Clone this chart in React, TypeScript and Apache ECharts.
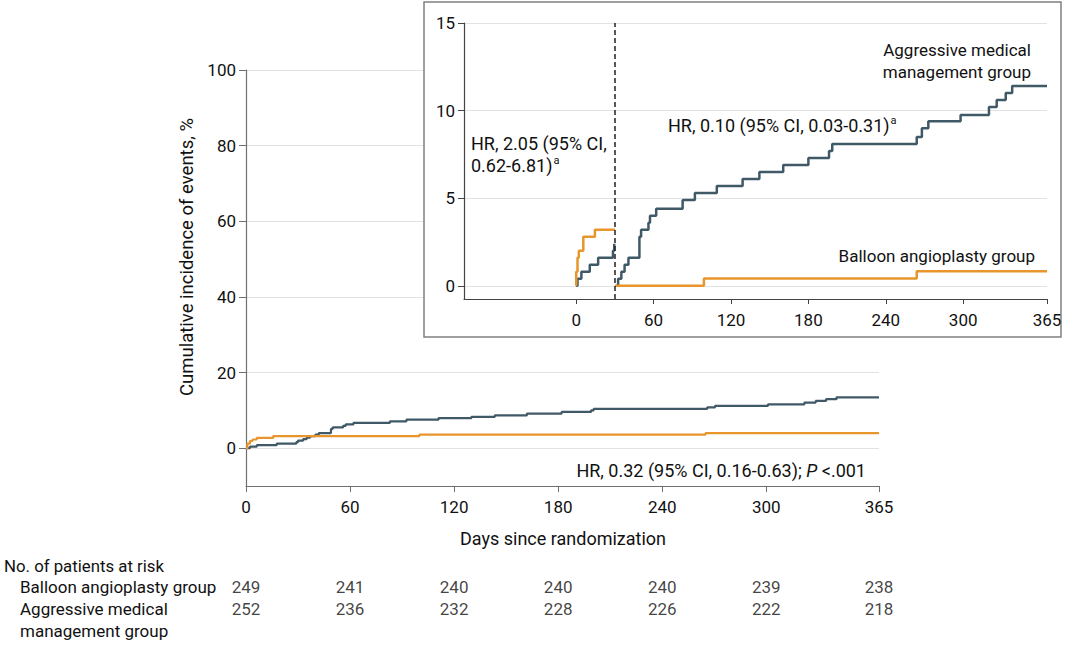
import React, { useEffect, useRef } from 'react';
import * as echarts from 'echarts';

// ---- tick labels ----
const mainXTicks = [0, 60, 120, 180, 240, 300, 365];
const mainYTicks = [0, 20, 40, 60, 80, 100];
const insetXTicks = [0, 60, 120, 180, 240, 300, 365];
const insetYTicks = [0, 5, 10, 15];

// ---- main plot (cumulative incidence, %) ----
const balloonMainDays = [0, 0.8, 2.3, 3.8, 6.2, 15.7, 100, 265, 365];
const balloonMainPct = [0, 1.2, 1.9, 2.3, 2.7, 3.2, 3.6, 4.0, 4.0];

const aggressiveMainDays = [0, 2.3, 6.2, 17.7, 29, 30, 33, 35, 37, 40, 42, 49, 50, 56, 57.5, 62, 83, 92.5, 111, 130, 143.5, 162, 182, 199, 200.5, 266, 270.5, 301, 322, 328.5, 334.5, 340.5, 365];
const aggressiveMainPct = [0, 0.4, 0.8, 1.2, 1.6, 2.0, 2.4, 2.8, 3.2, 3.6, 4.0, 5.1, 5.5, 5.9, 6.3, 6.7, 7.1, 7.55, 7.95, 8.3, 8.7, 9.15, 9.6, 10.0, 10.4, 10.8, 11.2, 11.6, 12.05, 12.5, 12.95, 13.45, 13.45];

// ---- inset (landmark analysis at day 30) ----
const balloonEarlyDays = [0, 0, 1, 2, 5.5, 14.5, 30];
const balloonEarlyPct = [0, 0.8, 1.6, 2.0, 2.8, 3.2, 3.2];
const balloonLateDays = [30, 99, 264, 365];
const balloonLatePct = [0, 0.42, 0.84, 0.84];

const aggressiveEarlyDays = [0, 1, 4, 10.5, 17, 28.5, 29.5, 30];
const aggressiveEarlyPct = [0, 0.4, 0.8, 1.2, 1.6, 2.0, 2.4, 2.4];
const aggressiveLateDays = [31, 32.5, 35, 37.5, 40.5, 49, 50.3, 56, 57.2, 62, 82.5, 92, 109, 129, 142, 160.5, 180, 196, 198.5, 264, 268, 273, 298, 320, 326, 333, 338, 365];
const aggressiveLatePct = [0, 0.4, 0.8, 1.2, 1.6, 2.8, 3.2, 3.6, 4.0, 4.4, 4.9, 5.3, 5.7, 6.1, 6.5, 6.9, 7.3, 7.7, 8.1, 8.5, 9.0, 9.4, 9.75, 10.2, 10.6, 11.0, 11.4, 11.4];

const landmarkDay = 30;

// ---- numbers at risk ----
const atRiskDays = [0, 60, 120, 180, 240, 300, 365];
const atRiskBalloon = [249, 241, 240, 240, 240, 239, 238];
const atRiskAggressive = [252, 236, 232, 228, 226, 222, 218];

const ORANGE = '#e8952c';
const SLATE = '#405967';
const FONT = 'Roboto';
const TXT = '#111111';

const zip = (a: number[], b: number[]) => a.map((v, i) => [v, b[i]]);

export default function App() {
  const ref = useRef<HTMLDivElement>(null);
  useEffect(() => {
    if (!ref.current) return;
    const chart = echarts.init(ref.current, undefined, { renderer: 'svg' });
    const lbl = { fontFamily: FONT, fontSize: 17, color: TXT };
    const txt = (x: number, y: number, text: string, align: string, size: number, extra: any = {}) => ({
      type: 'text', x, y, z: 10,
      style: {
        text, textAlign: align, textVerticalAlign: 'middle',
        font: `${size}px ${FONT}`, fill: TXT, ...extra,
      },
    });
    const supRich = { sup: { fontSize: 11, fontFamily: FONT, fill: TXT, padding: [0, 0, 10, 1] } };
    const option: any = {
      animation: false,
      textStyle: { fontFamily: FONT },
      grid: [
        { left: 246, top: 70, width: 633, height: 416 },
        { left: 464, top: 23, width: 583, height: 276 },
        { left: 246, top: 587, width: 633, height: 22 },
      ],
      xAxis: [
        {
          gridIndex: 0, type: 'value', min: 0, max: 365,
          axisLine: { show: true, onZero: false, lineStyle: { color: '#707070', width: 1.2 } },
          axisTick: { show: true, customValues: mainXTicks, length: 6, lineStyle: { color: '#707070' } },
          axisLabel: { customValues: mainXTicks, margin: 12, ...lbl },
          splitLine: { show: false },
        },
        {
          gridIndex: 1, type: 'value', min: -87, max: 365, z: 5,
          axisLine: { show: true, onZero: false, lineStyle: { color: '#444', width: 1.2 } },
          axisTick: { show: true, customValues: insetXTicks, length: 5, lineStyle: { color: '#444' } },
          axisLabel: { customValues: insetXTicks, margin: 12, ...lbl },
          splitLine: { show: false },
        },
        { gridIndex: 2, type: 'value', min: 0, max: 365, show: false },
      ],
      yAxis: [
        {
          gridIndex: 0, type: 'value', min: -10, max: 100,
          axisLine: { show: true, onZero: false, lineStyle: { color: '#707070', width: 1.2 } },
          axisTick: { show: true, customValues: mainYTicks, length: 7, lineStyle: { color: '#707070' } },
          axisLabel: { customValues: mainYTicks, margin: 10, ...lbl },
          splitLine: { show: true, lineStyle: { color: '#e2e2e2', width: 1.2 } },
        },
        {
          gridIndex: 1, type: 'value', min: -0.75, max: 15, z: 5,
          axisLine: { show: true, onZero: false, lineStyle: { color: '#444', width: 1.2 } },
          axisTick: { show: true, customValues: insetYTicks, length: 6, lineStyle: { color: '#444' } },
          axisLabel: { customValues: insetYTicks, margin: 9, ...lbl },
          splitLine: { show: true, lineStyle: { color: '#e2e2e2', width: 1.2 } },
        },
        { gridIndex: 2, type: 'value', min: 0, max: 1, show: false },
      ],
      series: [
        {
          type: 'line', xAxisIndex: 0, yAxisIndex: 0, step: 'end', symbol: 'none',
          data: zip(aggressiveMainDays, aggressiveMainPct), lineStyle: { color: SLATE, width: 2.2 }, z: 2,
        },
        {
          type: 'line', xAxisIndex: 0, yAxisIndex: 0, step: 'end', symbol: 'none',
          data: zip(balloonMainDays, balloonMainPct), lineStyle: { color: ORANGE, width: 2.2 }, z: 2,
        },
        {
          type: 'line', xAxisIndex: 1, yAxisIndex: 1, step: 'end', symbol: 'none',
          data: zip(aggressiveEarlyDays, aggressiveEarlyPct), lineStyle: { color: SLATE, width: 2.5 }, z: 6,
        },
        {
          type: 'line', xAxisIndex: 1, yAxisIndex: 1, step: 'end', symbol: 'none',
          data: zip(aggressiveLateDays, aggressiveLatePct), lineStyle: { color: SLATE, width: 2.5 }, z: 6,
          markLine: {
            silent: true, symbol: 'none', label: { show: false }, z: 7,
            lineStyle: { color: '#222', type: [5, 3], width: 1.5 },
            data: [{ xAxis: landmarkDay }],
          },
        },
        {
          type: 'line', xAxisIndex: 1, yAxisIndex: 1, step: 'end', symbol: 'none',
          data: zip(balloonEarlyDays, balloonEarlyPct), lineStyle: { color: ORANGE, width: 2.5 }, z: 6,
        },
        {
          type: 'line', xAxisIndex: 1, yAxisIndex: 1, step: 'end', symbol: 'none',
          data: zip(balloonLateDays, balloonLatePct), lineStyle: { color: ORANGE, width: 2.5 }, z: 6,
        },
        {
          type: 'scatter', xAxisIndex: 2, yAxisIndex: 2, symbolSize: 0,
          data: atRiskDays.map((d, i) => [d, 1, atRiskBalloon[i]]),
          label: { show: true, position: 'inside', formatter: (p: any) => String(p.value[2]), ...lbl },
        },
        {
          type: 'scatter', xAxisIndex: 2, yAxisIndex: 2, symbolSize: 0,
          data: atRiskDays.map((d, i) => [d, 0, atRiskAggressive[i]]),
          label: { show: true, position: 'inside', formatter: (p: any) => String(p.value[2]), ...lbl },
        },
      ],
      graphic: [
        {
          type: 'rect', z: 1, shape: { x: 424, y: 2, width: 637, height: 335 },
          style: { fill: '#fff', stroke: '#808080', lineWidth: 1.5 },
        },
        {
          ...txt(187, 257, 'Cumulative incidence of events, %', 'center', 18.5),
          rotation: Math.PI / 2,
        },
        txt(563, 538, 'Days since randomization', 'center', 18),
        txt(866, 470, 'HR, 0.32 (95% CI, 0.16-0.63); {it|P} <.001', 'right', 18, {
          rich: { it: { fontStyle: 'italic', fontFamily: FONT, fontSize: 18, fill: TXT } },
        }),
        txt(1031, 50, 'Aggressive medical', 'right', 17),
        txt(1031, 72, 'management group', 'right', 17),
        txt(668, 125, 'HR, 0.10 (95% CI, 0.03-0.31){sup|a}', 'left', 18, { rich: supRich }),
        txt(471, 143, 'HR, 2.05 (95% CI,', 'left', 18),
        txt(471, 165, '0.62-6.81){sup|a}', 'left', 18, { rich: supRich }),
        txt(1035, 256, 'Balloon angioplasty group', 'right', 17),
        txt(4, 566, 'No. of patients at risk', 'left', 16.8),
        txt(20, 587, 'Balloon angioplasty group', 'left', 17),
        txt(20, 609, 'Aggressive medical', 'left', 17),
        txt(20, 631, 'management group', 'left', 17),
      ],
    };
    chart.setOption(option);
    return () => chart.dispose();
  }, []);
  return (
    <div
      ref={ref}
      style={{ position: 'absolute', left: 0, top: 0, width: 1080, height: 645, background: '#fff' }}
    />
  );
}
